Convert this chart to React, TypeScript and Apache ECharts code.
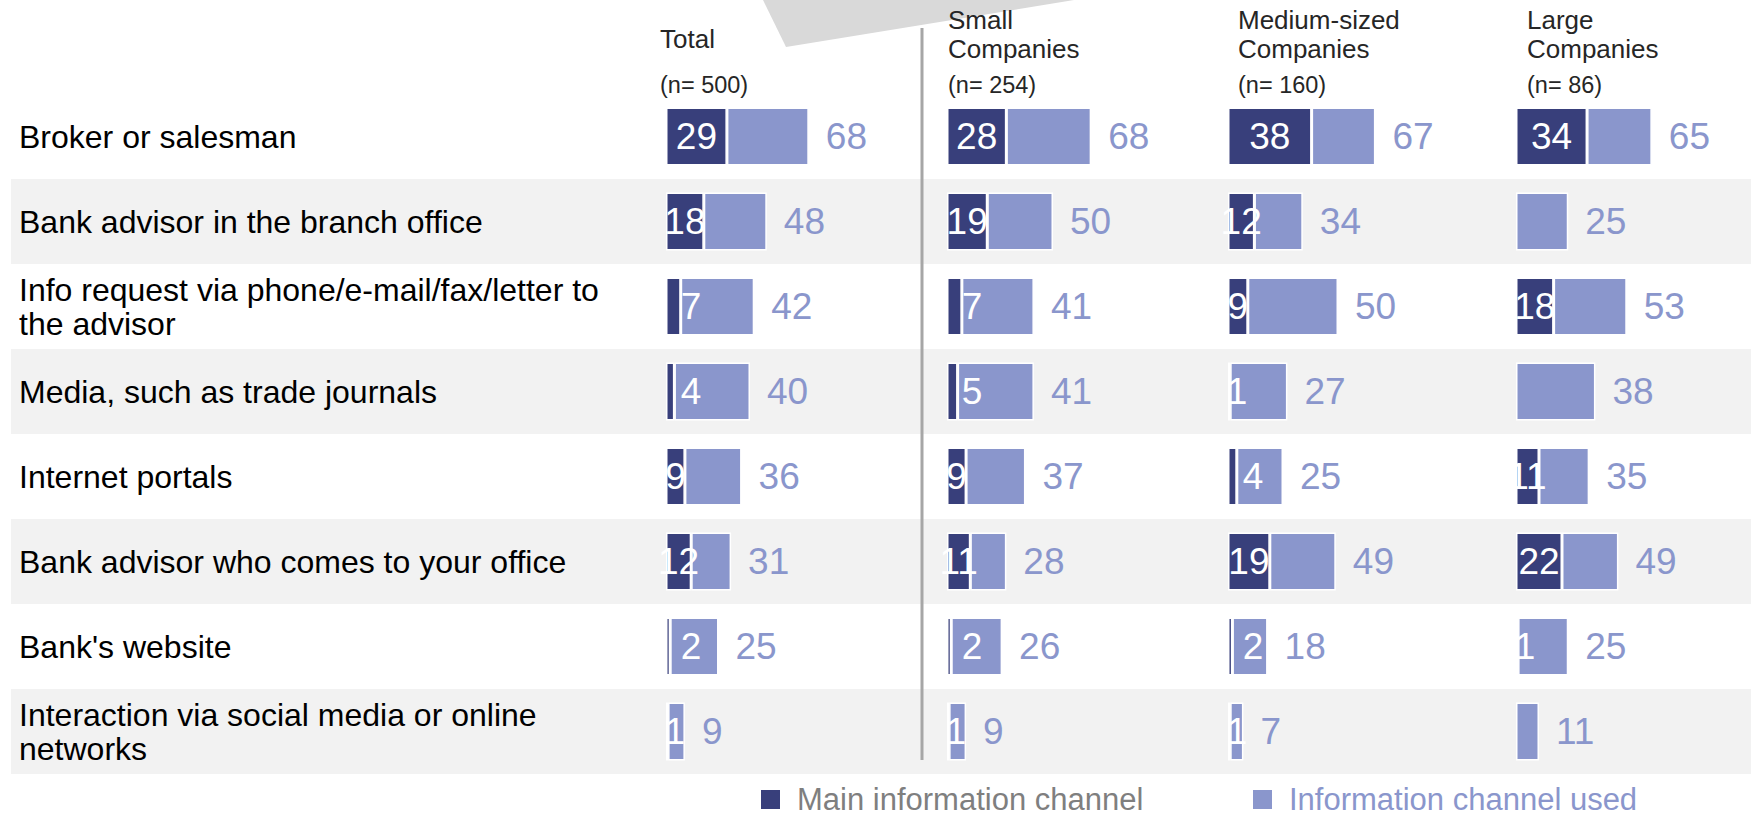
import React, { useEffect, useRef } from 'react';
import * as echarts from 'echarts';

const categories = [
  'Broker or salesman',
  'Bank advisor in the branch office',
  'Info request via phone/e-mail/fax/letter to\nthe advisor',
  'Media, such as trade journals',
  'Internet portals',
  'Bank advisor who comes to your office',
  "Bank's website",
  'Interaction via social media or online\nnetworks',
];

const panelTitles = ['Total', 'Small\nCompanies', 'Medium-sized\nCompanies', 'Large\nCompanies'];
const sampleSizes = ['(n= 500)', '(n= 254)', '(n= 160)', '(n= 86)'];
const legendNames = ['Main information channel', 'Information channel used'];

const totalMain = [29, 18, 7, 4, 9, 12, 2, 1];
const totalUsed = [68, 48, 42, 40, 36, 31, 25, 9];
const smallMain = [28, 19, 7, 5, 9, 11, 2, 1];
const smallUsed = [68, 50, 41, 41, 37, 28, 26, 9];
const mediumMain = [38, 12, 9, 1, 4, 19, 2, 1];
const mediumUsed = [67, 34, 50, 27, 25, 49, 18, 7];
const largeMain = [34, null, 18, null, 11, 22, 1, null];
const largeUsed = [65, 25, 53, 38, 35, 49, 25, 11];

const mainSets = [totalMain, smallMain, mediumMain, largeMain];
const usedSets = [totalUsed, smallUsed, mediumUsed, largeUsed];

// layout
const FONT = "'Liberation Sans', Arial, Helvetica, sans-serif";
const DARK = '#383f7b';
const LIGHT = '#8a96cc';
const GRID_TOP = 94;
const ROW_H = 85;
const panelLeft = [666, 947, 1228, 1516];
const panelScale = [2.1, 2.12, 2.2, 2.09];
const headerX = [660, 948, 1238, 1527];
const TEXT_PAD = [9, 0, 0, 0];

function darkLabel(v: number) {
  if (v >= 9) return { position: 'inside' };
  if (v >= 2) return { position: [25, '50%'], align: 'center', verticalAlign: 'middle' };
  return { position: [9, '50%'], align: 'center', verticalAlign: 'middle' };
}

function buildOption() {
  const grids: any[] = [{ left: 11, top: GRID_TOP, width: 1740, height: ROW_H * categories.length }];
  const xAxes: any[] = [{ type: 'value', gridIndex: 0, min: 0, max: 1, show: false }];
  const yAxes: any[] = [
    {
      type: 'category',
      gridIndex: 0,
      data: categories,
      inverse: true,
      axisLine: { show: false },
      axisTick: { show: false },
      splitLine: { show: false },
      axisLabel: {
        inside: true,
        margin: 8,
        interval: 0,
        fontSize: 32,
        lineHeight: 34,
        color: '#000',
        fontFamily: FONT,
        padding: TEXT_PAD,
      },
      splitArea: { show: true, interval: 0, areaStyle: { color: ['rgba(255,255,255,0)', '#f2f2f2'] } },
    },
  ];
  const series: any[] = [];

  mainSets.forEach((main, i) => {
    const used = usedSets[i];
    grids.push({ left: panelLeft[i], top: GRID_TOP, width: panelScale[i] * 100, height: ROW_H * categories.length });
    xAxes.push({ type: 'value', gridIndex: i + 1, min: 0, max: 100, show: false });
    yAxes.push({ type: 'category', gridIndex: i + 1, data: categories, inverse: true, show: false });
    series.push({
      type: 'bar',
      name: legendNames[0],
      xAxisIndex: i + 1,
      yAxisIndex: i + 1,
      stack: 's' + i,
      barWidth: 58,
      z: 3,
      itemStyle: { color: DARK, borderColor: '#fff', borderWidth: 1.5 },
      label: { show: true, color: '#fff', fontSize: 37, fontFamily: FONT, padding: TEXT_PAD },
      data: main.map((v) => (v == null ? '-' : { value: v, label: darkLabel(v) })),
    });
    series.push({
      type: 'bar',
      name: legendNames[1],
      xAxisIndex: i + 1,
      yAxisIndex: i + 1,
      stack: 's' + i,
      barWidth: 58,
      z: 2,
      itemStyle: { color: LIGHT, borderColor: '#fff', borderWidth: 1.5 },
      label: {
        show: true,
        position: 'right',
        distance: 17,
        color: LIGHT,
        fontSize: 37,
        fontFamily: FONT,
        padding: TEXT_PAD,
        formatter: (p: any) => String(used[p.dataIndex]),
      },
      data: used.map((u, k) => u - (main[k] ?? 0)),
    });
  });

  const graphic: any[] = [
    { type: 'polygon', z: 100, shape: { points: [[763, 0], [786, 47], [1074, 0]] }, style: { fill: '#d9d9d9' } },
    { type: 'line', z: 100, shape: { x1: 922, y1: 28, x2: 922, y2: 760 }, style: { stroke: '#a6a6a6', lineWidth: 3 } },
  ];
  panelTitles.forEach((t, i) => {
    const multi = t.indexOf('\n') >= 0;
    graphic.push({
      type: 'text',
      z: 100,
      x: headerX[i],
      y: multi ? 34.5 : 39,
      style: { text: t, fontSize: 26, lineHeight: 29, fontFamily: FONT, fill: '#262626', verticalAlign: 'middle', align: 'left' },
    });
    graphic.push({
      type: 'text',
      z: 100,
      x: headerX[i],
      y: 85,
      style: { text: sampleSizes[i], fontSize: 23.5, fontFamily: FONT, fill: '#262626', verticalAlign: 'middle', align: 'left' },
    });
  });

  const legendBase = {
    icon: 'rect',
    itemWidth: 19,
    itemHeight: 19,
    top: 779,
    orient: 'horizontal',
    selectedMode: false,
    itemStyle: { borderWidth: 0 },
    textStyle: { fontSize: 31, lineHeight: 31, fontFamily: FONT, padding: [0, 0, 0, 12] },
  };

  return {
    animation: false,
    backgroundColor: '#fff',
    grid: grids,
    xAxis: xAxes,
    yAxis: yAxes,
    series,
    graphic,
    legend: [
      { ...legendBase, left: 756, data: [{ name: legendNames[0], textStyle: { color: '#7f7f7f' } }] },
      { ...legendBase, left: 1248, data: [{ name: legendNames[1], textStyle: { color: LIGHT } }] },
    ],
  };
}

export default function App() {
  const ref = useRef<HTMLDivElement>(null);
  useEffect(() => {
    if (!ref.current) return;
    const chart = echarts.init(ref.current, null, { renderer: 'svg' });
    chart.setOption(buildOption() as any);
    return () => chart.dispose();
  }, []);
  return (
    <div
      ref={ref}
      style={{ position: 'fixed', left: 0, top: 0, width: 1751, height: 822, background: '#fff' }}
    />
  );
}
